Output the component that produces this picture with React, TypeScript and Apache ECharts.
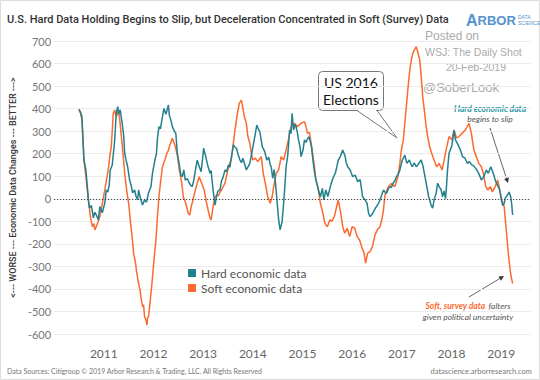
import { useEffect, useRef } from "react";
import * as echarts from "echarts";

const hardYears = [
  2010.5, 2010.53, 2010.56, 2010.6, 2010.64, 2010.69, 2010.71, 2010.75, 2010.79, 2010.82, 2010.85, 2010.89, 2010.92, 2010.97,
  2011.02, 2011.05, 2011.08, 2011.11, 2011.13, 2011.17, 2011.22, 2011.25, 2011.28, 2011.3, 2011.33, 2011.35, 2011.37, 2011.4,
  2011.42, 2011.45, 2011.48, 2011.52, 2011.55, 2011.58, 2011.62, 2011.65, 2011.68, 2011.7, 2011.74, 2011.78, 2011.82, 2011.86,
  2011.9, 2011.95, 2011.98, 2012.03, 2012.06, 2012.08, 2012.11, 2012.14, 2012.17, 2012.21, 2012.25, 2012.3, 2012.32, 2012.35,
  2012.38, 2012.42, 2012.45, 2012.48, 2012.51, 2012.55, 2012.58, 2012.61, 2012.64, 2012.68, 2012.72, 2012.75, 2012.78, 2012.81,
  2012.84, 2012.88, 2012.91, 2012.96, 2013.01, 2013.03, 2013.05, 2013.09, 2013.14, 2013.16, 2013.19, 2013.21, 2013.24, 2013.27,
  2013.3, 2013.34, 2013.37, 2013.4, 2013.44, 2013.47, 2013.51, 2013.54, 2013.57, 2013.61, 2013.64, 2013.67, 2013.7, 2013.74,
  2013.77, 2013.8, 2013.84, 2013.87, 2013.9, 2013.94, 2013.99, 2014.04, 2014.08, 2014.11, 2014.14, 2014.17, 2014.19, 2014.24,
  2014.28, 2014.32, 2014.35, 2014.37, 2014.4, 2014.43, 2014.46, 2014.48, 2014.52, 2014.55, 2014.59, 2014.62, 2014.64, 2014.67,
  2014.7, 2014.72, 2014.74, 2014.77, 2014.79, 2014.82, 2014.85, 2014.87, 2014.9, 2014.92, 2014.95, 2014.97, 2015.01, 2015.04,
  2015.07, 2015.09, 2015.13, 2015.16, 2015.18, 2015.21, 2015.24, 2015.27, 2015.3, 2015.32, 2015.36, 2015.4, 2015.43, 2015.47,
  2015.51, 2015.56, 2015.6, 2015.63, 2015.66, 2015.69, 2015.72, 2015.76, 2015.81, 2015.84, 2015.86, 2015.88, 2015.91, 2015.96,
  2016.01, 2016.06, 2016.11, 2016.16, 2016.21, 2016.26, 2016.3, 2016.33, 2016.36, 2016.4, 2016.43, 2016.47, 2016.49, 2016.53,
  2016.56, 2016.6, 2016.63, 2016.66, 2016.69, 2016.73, 2016.76, 2016.79, 2016.82, 2016.86, 2016.89, 2016.93, 2016.96, 2017.01,
  2017.03, 2017.06, 2017.1, 2017.13, 2017.15, 2017.18, 2017.21, 2017.25, 2017.29, 2017.32, 2017.35, 2017.39, 2017.42, 2017.44,
  2017.49, 2017.54, 2017.59, 2017.62, 2017.65, 2017.69, 2017.72, 2017.75, 2017.79, 2017.82, 2017.85, 2017.88, 2017.9, 2017.92,
  2017.95, 2018.01, 2018.05, 2018.08, 2018.13, 2018.18, 2018.22, 2018.27, 2018.32, 2018.36, 2018.41, 2018.45, 2018.51, 2018.56,
  2018.6, 2018.65, 2018.7, 2018.74, 2018.79, 2018.84, 2018.89, 2018.94, 2018.97, 2019.0, 2019.03, 2019.06, 2019.08, 2019.12,
  2019.16, 2019.19, 2019.21, 2019.23,
];
const hardValues = [
  398, 385, 364, 172, 128, -5, -41, -30, -85, -60, -72, -94, -35, -62,
  -19, 39, 30, 61, 128, 150, 261, 380, 409, 375, 395, 364, 336, 280,
  203, 170, 142, 83, 60, 26, 39, 10, -5, 39, 0, -28, -5, -15,
  26, 54, 114, 172, 200, 268, 320, 310, 350, 401, 375, 416, 370, 350,
  320, 300, 290, 202, 165, 106, 98, 128, 83, 90, 70, 60, 54, 80,
  120, 172, 150, 120, 224, 205, 190, 150, 113, 125, 60, 20, -28, 13,
  35, 40, 80, 95, 128, 120, 150, 140, 187, 239, 230, 224, 200, 172,
  160, 180, 150, 128, 140, 157, 216, 276, 327, 310, 298, 260, 231, 209,
  172, 185, 150, 142, 91, 130, 60, 9, -94, -138, -101, -20, 39, 142,
  187, 240, 305, 290, 379, 305, 330, 320, 290, 261, 230, 187, 216, 261,
  250, 261, 276, 250, 231, 172, 120, 83, 60, 39, 9, 46, -5, 39,
  10, 54, 83, 100, 113, 140, 172, 187, 216, 200, 187, 160, 142, 128,
  98, 105, 76, 85, 9, -5, -20, -64, -79, -70, -57, -40, -35, -20,
  -5, 20, 39, 30, 24, 45, 54, 50, 68, 80, 98, 110, 128, 172,
  180, 194, 157, 165, 172, 155, 142, 160, 142, 150, 160, 172, 150, 128,
  69, 9, -28, -42, -5, 24, 69, 54, 40, 9, 35, 0, 60, 128,
  202, 239, 305, 261, 240, 216, 187, 180, 157, 165, 150, 145, 128, 106,
  83, 98, 128, 113, 142, 113, 76, 54, 39, 0, -30, -20, 2, 15,
  30, 9, -20, -72,
];

const softYears = [
  2010.5, 2010.53, 2010.56, 2010.6, 2010.64, 2010.69, 2010.73, 2010.77, 2010.8, 2010.82, 2010.86, 2010.89, 2010.92, 2010.97,
  2011.02, 2011.06, 2011.09, 2011.12, 2011.15, 2011.17, 2011.19, 2011.22, 2011.25, 2011.28, 2011.3, 2011.33, 2011.36, 2011.38,
  2011.42, 2011.46, 2011.5, 2011.54, 2011.57, 2011.6, 2011.64, 2011.66, 2011.7, 2011.73, 2011.75, 2011.78, 2011.8, 2011.82,
  2011.85, 2011.87, 2011.88, 2011.9, 2011.93, 2011.97, 2012.01, 2012.05, 2012.08, 2012.11, 2012.14, 2012.18, 2012.23, 2012.27,
  2012.3, 2012.33, 2012.38, 2012.43, 2012.48, 2012.52, 2012.57, 2012.6, 2012.65, 2012.7, 2012.73, 2012.76, 2012.81, 2012.86,
  2012.92, 2012.97, 2013.02, 2013.07, 2013.11, 2013.14, 2013.16, 2013.2, 2013.24, 2013.28, 2013.31, 2013.34, 2013.37, 2013.44,
  2013.51, 2013.57, 2013.61, 2013.64, 2013.69, 2013.73, 2013.77, 2013.8, 2013.83, 2013.87, 2013.9, 2013.94, 2013.97, 2014.0,
  2014.05, 2014.1, 2014.17, 2014.21, 2014.25, 2014.3, 2014.35, 2014.39, 2014.42, 2014.47, 2014.52, 2014.57, 2014.62, 2014.67,
  2014.73, 2014.77, 2014.84, 2014.9, 2014.97, 2015.04, 2015.07, 2015.1, 2015.14, 2015.19, 2015.24, 2015.27, 2015.32, 2015.36,
  2015.41, 2015.45, 2015.5, 2015.55, 2015.59, 2015.64, 2015.68, 2015.72, 2015.77, 2015.81, 2015.85, 2015.9, 2015.95, 2016.0,
  2016.05, 2016.1, 2016.15, 2016.19, 2016.24, 2016.27, 2016.31, 2016.36, 2016.41, 2016.46, 2016.5, 2016.56, 2016.6, 2016.63,
  2016.66, 2016.73, 2016.79, 2016.86, 2016.92, 2016.96, 2016.99, 2017.03, 2017.06, 2017.09, 2017.12, 2017.16, 2017.19, 2017.22,
  2017.25, 2017.29, 2017.32, 2017.36, 2017.39, 2017.42, 2017.46, 2017.49, 2017.52, 2017.56, 2017.6, 2017.66, 2017.7, 2017.75,
  2017.81, 2017.85, 2017.89, 2017.92, 2017.95, 2018.01, 2018.05, 2018.1, 2018.15, 2018.21, 2018.28, 2018.35, 2018.4, 2018.45,
  2018.5, 2018.55, 2018.6, 2018.64, 2018.69, 2018.73, 2018.78, 2018.82, 2018.88, 2018.93, 2018.97, 2019.01, 2019.06, 2019.09,
  2019.12, 2019.15, 2019.18, 2019.2, 2019.23,
];
const softValues = [
  395, 380, 350, 172, 98, -5, -79, -124, -110, -138, -116, -100, -79, -20,
  39, 91, 130, 187, 231, 300, 379, 394, 364, 380, 394, 330, 260, 216,
  113, 39, -20, -109, -168, -242, -286, -323, -375, -405, -441, -479, -470, -523,
  -538, -560, -530, -523, -464, -375, -271, -183, -79, 9, 69, 142, 172, 202,
  215, 239, 268, 239, 194, 128, 69, 9, -20, -64, -72, -35, 9, 54,
  98, 69, 39, -20, -60, -86, -94, -35, 9, 15, 13, 30, 39, 69,
  142, 179, 250, 305, 379, 424, 438, 401, 364, 335, 276, 246, 202, 172,
  180, 165, 187, 113, 69, 9, -20, 10, 54, 113, 128, 187, 172, 216,
  276, 320, 335, 320, 335, 342, 320, 290, 295, 224, 142, 83, 39, -20,
  -64, -109, -124, -94, -100, -79, -42, -5, -64, -124, -153, -131, -168, -124,
  -130, -168, -183, -212, -242, -286, -242, -235, -210, -160, -140, -124, -90, -50,
  17, 54, 68, 54, 98, 157, 216, 261, 335, 409, 483, 571, 615, 645,
  660, 675, 652, 615, 542, 453, 379, 320, 276, 231, 202, 165, 142, 157,
  128, 170, 216, 246, 276, 261, 305, 270, 276, 290, 305, 335, 290, 216,
  187, 157, 142, 113, 54, 39, 54, 31, 54, 83, 39, -5, -35, -109,
  -183, -257, -316, -345, -375,
];

const yearTicks = [2011, 2012, 2013, 2014, 2015, 2016, 2017, 2018, 2019];

const TEAL = "#23808d";
const TEAL_NOTE = "#2a98a8";
const ORANGE = "#fb6a30";
const FONT = "Lato";

function arrow(x1: number, y1: number, x2: number, y2: number) {
  const a = Math.atan2(y2 - y1, x2 - x1);
  const L = 5;
  const W = 2.5;
  const bx = x2 - L * Math.cos(a);
  const by = y2 - L * Math.sin(a);
  const s = Math.sin(a);
  const c = Math.cos(a);
  return [
    { type: "line", silent: true, shape: { x1, y1, x2: bx, y2: by }, style: { stroke: "#666", lineWidth: 1 } },
    {
      type: "polygon",
      silent: true,
      shape: { points: [[x2, y2], [bx - W * s, by + W * c], [bx + W * s, by - W * c]] },
      style: { fill: "#333" },
    },
  ];
}

export default function App() {
  const ref = useRef<HTMLDivElement>(null);
  useEffect(() => {
    const chart = echarts.init(ref.current!, null, { renderer: "svg" });
    const hardData = hardYears.map((y, i) => [y, hardValues[i]]);
    const softData = softYears.map((y, i) => [y, softValues[i]]);
    chart.setOption({
      animation: false,
      backgroundColor: "#ffffff",
      textStyle: { fontFamily: FONT },
      title: {
        text: "U.S. Hard Data Holding Begins to Slip, but Deceleration Concentrated in Soft (Survey) Data",
        left: 7,
        top: 14,
        padding: 0,
        textStyle: { fontFamily: "Roboto", fontSize: 11, fontWeight: 500, color: "#333" },
      },
      grid: { left: 49, right: 9, top: 41, bottom: 46 },
      xAxis: {
        type: "value",
        min: 2010,
        max: 2019.6,
        interval: 1,
        axisLine: { show: false },
        axisTick: { show: false },
        splitLine: { show: false },
        axisLabel: {
          margin: 13,
          color: "#666",
          fontSize: 12,
          formatter: (v: number) => (yearTicks.includes(v) ? String(v) : ""),
        },
      },
      yAxis: {
        type: "value",
        min: -600,
        max: 700,
        interval: 100,
        axisLine: { show: false },
        axisTick: { show: false },
        splitLine: { lineStyle: { color: "#ececec", width: 1 } },
        axisLabel: { color: "#777", fontSize: 11, margin: 3 },
        name: "<--- WORSE --- Economic Data Changes --- BETTER --->",
        nameLocation: "middle",
        nameRotate: 90,
        nameGap: 33,
        nameTextStyle: { color: "#333", fontSize: 9, fontWeight: 500, fontFamily: "Roboto" },
      },
      legend: {
        orient: "vertical",
        left: 188,
        top: 266,
        padding: 0,
        itemWidth: 8,
        itemHeight: 8,
        itemGap: 1,
        icon: "rect",
        data: ["Hard economic data", "Soft economic data"],
        textStyle: { color: "#555", fontSize: 12, lineHeight: 14, fontFamily: FONT },
      },
      series: [
        {
          name: "Soft economic data",
          type: "line",
          data: softData,
          showSymbol: false,
          color: ORANGE,
          lineStyle: { width: 1.5, color: ORANGE },
        },
        {
          name: "Hard economic data",
          type: "line",
          data: hardData,
          showSymbol: false,
          color: TEAL,
          lineStyle: { width: 1.5, color: TEAL },
          markLine: {
            silent: true,
            symbol: "none",
            label: { show: false },
            lineStyle: { color: "#333", type: [1, 2], width: 1 },
            data: [{ yAxis: 0 }],
          },
        },
      ],
      graphic: [
        {
          type: "rect",
          silent: true,
          shape: { x: 0.5, y: 0.5, width: 539, height: 379 },
          style: { fill: "none", stroke: "#dcdcdc", lineWidth: 1 },
        },
        {
          type: "text",
          x: 466,
          y: 20,
          style: {
            text: "{a|A}{b|RBOR}",
            verticalAlign: "middle",
            rich: {
              a: { fontSize: 16, fontWeight: "bold", fill: "#5393cc", fontFamily: "Liberation Sans" },
              b: { fontSize: 13, fontWeight: "bold", fill: "#5393cc", fontFamily: "Liberation Sans" },
            },
          },
        },
        {
          type: "text",
          x: 518,
          y: 16.5,
          scaleX: 0.5,
          scaleY: 0.5,
          style: { text: "DATA", fontSize: 10, fill: "#5393cc", verticalAlign: "middle", fontFamily: "Liberation Sans" },
        },
        {
          type: "text",
          x: 518,
          y: 23,
          scaleX: 0.5,
          scaleY: 0.5,
          style: { text: "SCIENCE", fontSize: 10, fill: "#5393cc", verticalAlign: "middle", fontFamily: "Liberation Sans" },
        },
        {
          type: "text",
          x: 425,
          y: 36,
          style: { text: "Posted on", fontSize: 12, fill: "#aaaaaa", verticalAlign: "middle", fontFamily: "Liberation Sans" },
        },
        {
          type: "text",
          x: 425,
          y: 52,
          style: { text: "WSJ: The Daily Shot", fontSize: 10.5, fill: "#aaaaaa", verticalAlign: "middle", fontFamily: "Liberation Sans" },
        },
        {
          type: "text",
          x: 506,
          y: 67,
          style: { text: "20-Feb-2019", fontSize: 10.5, fill: "#aaaaaa", align: "right", verticalAlign: "middle", fontFamily: "Liberation Sans" },
        },
        {
          type: "text",
          x: 423,
          y: 87,
          style: { text: "@SoberLook", fontSize: 13, fill: "#aaaaaa", verticalAlign: "middle", fontFamily: "Liberation Sans" },
        },
        {
          type: "rect",
          silent: true,
          shape: { x: 318.5, y: 71.5, width: 65, height: 39, r: 4 },
          style: { fill: "#ffffff", stroke: "#777", lineWidth: 1 },
        },
        {
          type: "line",
          silent: true,
          shape: { x1: 358, y1: 110.5, x2: 376, y2: 110.5 },
          style: { stroke: "#ffffff", lineWidth: 2 },
        },
        {
          type: "polyline",
          silent: true,
          shape: { points: [[357, 110.5], [397, 138], [377, 110.5]] },
          style: { stroke: "#777", lineWidth: 1, fill: "none" },
        },
        {
          type: "text",
          x: 351,
          y: 91,
          style: {
            text: "US 2016\nElections",
            fontSize: 14,
            lineHeight: 17,
            fill: "#111",
            align: "center",
            verticalAlign: "middle",
            fontFamily: FONT,
          },
        },
        {
          type: "text",
          x: 490,
          y: 114,
          style: {
            text: "{t|Hard economic data}\n{g|begins to slip}",
            align: "center",
            verticalAlign: "middle",
            rich: {
              t: { fill: TEAL_NOTE, fontSize: 8.5, fontWeight: "bold", fontStyle: "italic", fontFamily: FONT, lineHeight: 10 },
              g: { fill: "#555", fontSize: 8.5, fontStyle: "italic", fontFamily: FONT, lineHeight: 10 },
            },
          },
        },
        ...arrow(490, 128, 508, 183),
        {
          type: "text",
          x: 468,
          y: 311,
          style: {
            text: "{o|Soft, survey data} {g|falters}\n{g|given political uncertainty}",
            align: "center",
            verticalAlign: "middle",
            rich: {
              o: { fill: ORANGE, fontSize: 8.5, fontWeight: "bold", fontStyle: "italic", fontFamily: FONT, lineHeight: 10 },
              g: { fill: "#555", fontSize: 8.5, fontStyle: "italic", fontFamily: FONT, lineHeight: 10 },
            },
          },
        },
        ...arrow(469, 297, 504, 276),
        {
          type: "text",
          x: 7,
          y: 371,
          style: {
            text: "Data Sources: Citigroup \u00a9 2019 Arbor Research & Trading, LLC. All Rights Reserved",
            fontSize: 7,
            fill: "#777",
            verticalAlign: "middle",
            fontFamily: FONT,
          },
        },
        {
          type: "text",
          x: 532,
          y: 371,
          style: {
            text: "datascience.arborresearch.com",
            fontSize: 7.5,
            fill: "#777",
            align: "right",
            verticalAlign: "middle",
            fontFamily: FONT,
          },
        },
      ],
    });
    return () => chart.dispose();
  }, []);
  return <div ref={ref} style={{ position: "fixed", left: 0, top: 0, width: 540, height: 380 }} />;
}
